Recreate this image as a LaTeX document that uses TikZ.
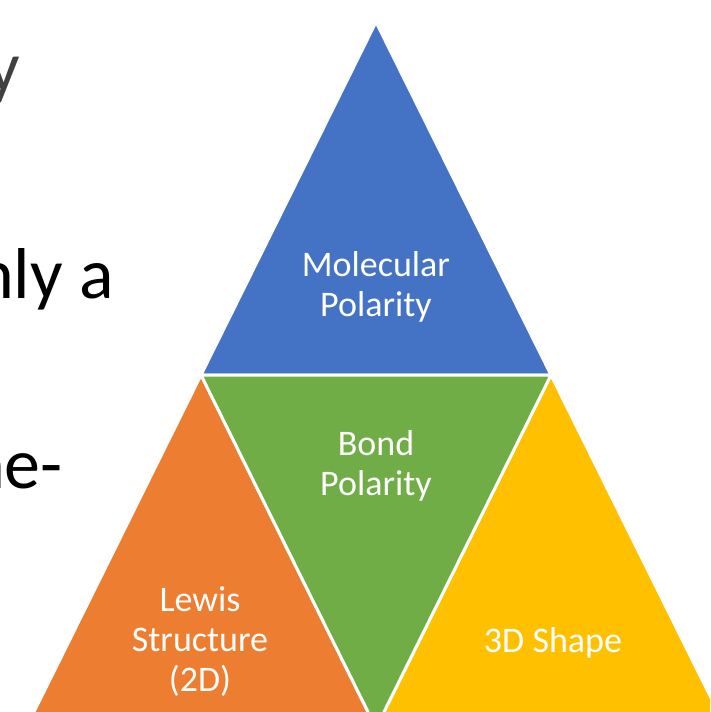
\documentclass[tikz,border=0pt]{standalone}
\usepackage{fontspec}
\setmainfont{Carlito}
\definecolor{pyrblue}{HTML}{4472C4}
\definecolor{pyrgreen}{HTML}{70AD47}
\definecolor{pyrorange}{HTML}{ED7D31}
\definecolor{pyryellow}{HTML}{FFC000}
\definecolor{titlegray}{HTML}{404040}

\begin{document}
\begin{tikzpicture}[
    x=1pt,
    y=-1pt,
    tri/.style={draw=white,line width=3pt},
    lbl/.style={text=white,font=\fontsize{36}{40}\selectfont,align=center,anchor=base},
    body/.style={font=\fontsize{72}{86}\selectfont,anchor=base east,inner sep=0pt},
]
    \useasboundingbox (0,0) rectangle (710,712);
    \clip (0,0) rectangle (710,712);
    % corners of the pyramid
    \coordinate (top) at (376,22);
    \coordinate (ml) at (201,375);
    \coordinate (mr) at (551,375);
    \coordinate (bl) at (26,728);
    \coordinate (bm) at (376,728);
    \coordinate (br) at (726,728);
    \filldraw[tri,fill=pyrblue] (top) -- (ml) -- (mr) -- cycle;
    \filldraw[tri,fill=pyrorange] (ml) -- (bl) -- (bm) -- cycle;
    \filldraw[tri,fill=pyryellow] (mr) -- (bm) -- (br) -- cycle;
    \filldraw[tri,fill=pyrgreen] (ml) -- (mr) -- (bm) -- cycle;
    % base anchor sits on the last line
    \node[lbl] (mol) at (376,316) {Molecular\\Polarity};
    \node[lbl] (bond) at (376,495) {Bond\\Polarity};
    \node[lbl] (lewis) at (200,691) {Lewis\\Structure\\(2D)};
    \node[lbl] (shape) at (553,652) {3D Shape};
    % slide text cut off at the left
    \node[body,text=titlegray] (line1) at (20,91) {y};
    \node[body] (line2) at (114,298) {nly a};
    \node[body] (line3) at (63,488) {ne-};
\end{tikzpicture}
\end{document}
